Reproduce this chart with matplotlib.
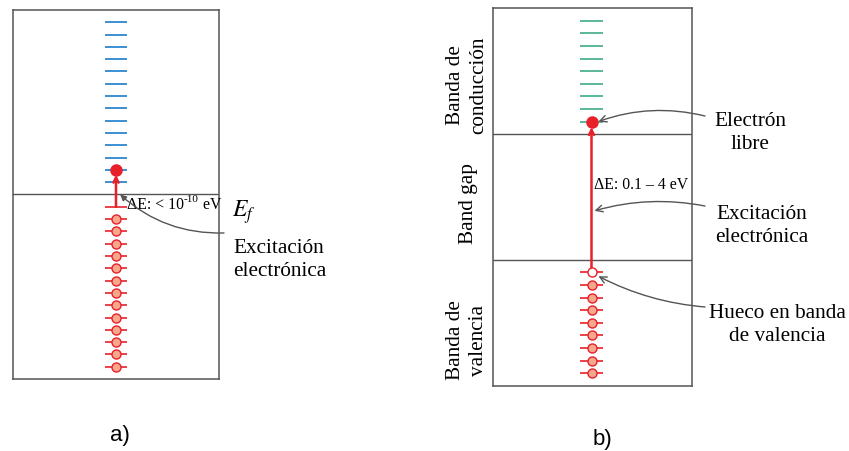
import matplotlib
matplotlib.use("Agg")
import matplotlib.pyplot as plt
from matplotlib.transforms import offset_copy

plt.rcParams['mathtext.fontset'] = 'stix'
SERIF = ['Liberation Serif', 'DejaVu Serif']

# ---- data (energy levels, arbitrary units; each panel spans 0..30) ----
a_cond_levels = [16, 17, 18, 19, 20, 21, 22, 23, 24, 25, 26, 27, 28, 29]
a_filled_levels = [1, 2, 3, 4, 5, 6, 7, 8, 9, 10, 11, 12, 13]
a_vacated_level = 14
a_fermi_level = 15
a_electron_level = 17

b_cond_levels = [21, 22, 23, 24, 25, 26, 27, 28, 29]
b_filled_levels = [1, 2, 3, 4, 5, 6, 7, 8]
b_hole_level = 9
b_valence_top = 10
b_cond_bottom = 20
b_electron_level = 21

W, H = 849, 451
GRAY = '#555555'
RED = '#e8202a'
FILL = '#f7a78c'
BLUE = '#3b8fd0'
GREEN = '#5ab898'


def px_box(l, t, r, b):
    return [l / W, 1 - b / H, (r - l) / W, (b - t) / H]


def fp(x, y):
    return (x / W, 1 - y / H)


fig = plt.figure(figsize=(W / 100, H / 100), dpi=100)
axA = fig.add_axes(px_box(13, 10, 219, 379))
axB = fig.add_axes(px_box(493, 8.3, 692, 385.7))

for ax in (axA, axB):
    ax.set_xlim(0, 1)
    ax.set_ylim(0, 30)
    ax.set_xticks([])
    ax.set_yticks([])
    for s in ax.spines.values():
        s.set_color(GRAY)
        s.set_linewidth(1.1)

# ---------------- panel a ----------------
hw = 0.054
axA.axhline(a_fermi_level, color=GRAY, lw=1.0)
axA.hlines(a_cond_levels, 0.5 - hw, 0.5 + hw, color=BLUE, lw=1.4)
axA.hlines(a_filled_levels + [a_vacated_level], 0.5 - hw, 0.5 + hw, color=RED, lw=1.2)
axA.plot([0.5] * len(a_filled_levels), a_filled_levels, 'o', ms=6.5,
         mfc=FILL, mec=RED, mew=1.0, zorder=4)
axA.annotate('', xy=(0.5, a_electron_level - 0.4), xytext=(0.5, a_vacated_level),
             arrowprops=dict(arrowstyle='->', color=RED, lw=1.8,
                             shrinkA=0, shrinkB=0, mutation_scale=9))
axA.plot([0.5], [a_electron_level], 'o', ms=8, color=RED, zorder=5)

# "ΔE: < 10^-10 eV" built from pieces so the exponent keeps a plain hyphen
renderer = fig.canvas.get_renderer()
t1 = axA.text(0.553, 14.15, 'ΔE: < 10', fontsize=11.3, family=SERIF,
              ha='left', va='center')
w1 = t1.get_window_extent(renderer).width * 72 / fig.dpi
t2 = axA.text(0.553, 14.15, '-10', fontsize=8, family=SERIF, ha='left', va='center',
              transform=offset_copy(axA.transData, fig=fig, x=w1, y=4, units='points'))
w2 = t2.get_window_extent(renderer).width * 72 / fig.dpi
axA.text(0.553, 14.15, ' eV', fontsize=11.3, family=SERIF, ha='left', va='center',
         transform=offset_copy(axA.transData, fig=fig, x=w1 + w2, y=0, units='points'))

fig.text(*fp(232, 212), r'$E_f$', fontsize=17, ha='left', va='center')
fig.text(*fp(233, 260), 'Excitación\nelectrónica', fontsize=15.3, family=SERIF,
         ha='left', va='center', linespacing=1.32)
axA.annotate('', xy=(0.52, a_fermi_level), xycoords=axA.transData,
             xytext=fp(224, 233), textcoords='figure fraction',
             arrowprops=dict(arrowstyle='-|>', color=GRAY, lw=1.0,
                             shrinkA=0, shrinkB=0, mutation_scale=9,
                             connectionstyle='arc3,rad=-0.2'))

# ---------------- panel b ----------------
hw = 0.058
axB.axhline(b_valence_top, color=GRAY, lw=1.0)
axB.axhline(b_cond_bottom, color=GRAY, lw=1.0)
axB.hlines(b_cond_levels, 0.495 - hw, 0.495 + hw, color=GREEN, lw=1.4)
axB.hlines(b_filled_levels + [b_hole_level], 0.495 - hw, 0.495 + hw, color=RED, lw=1.2)
axB.annotate('', xy=(0.495, b_electron_level - 0.45), xytext=(0.495, b_hole_level + 0.3),
             arrowprops=dict(arrowstyle='->', color=RED, lw=1.8,
                             shrinkA=0, shrinkB=0, mutation_scale=9))
axB.plot([0.495] * len(b_filled_levels), b_filled_levels, 'o', ms=6.5,
         mfc=FILL, mec=RED, mew=1.0, zorder=4)
axB.plot([0.495], [b_hole_level], 'o', ms=6.5, mfc='white', mec=RED, mew=1.0, zorder=4)
axB.plot([0.495], [b_electron_level], 'o', ms=8, color=RED, zorder=5)
axB.text(0.51, 15.96, 'ΔE: 0.1 – 4 eV', fontsize=11.3, family=SERIF,
         ha='left', va='center')

fig.text(*fp(467, 85), 'Banda de\nconducción', rotation=90, fontsize=15.3,
         family=SERIF, ha='center', va='center', multialignment='center',
         linespacing=1.25)
fig.text(*fp(468, 203), 'Band gap', rotation=90, fontsize=15.3,
         family=SERIF, ha='center', va='center')
fig.text(*fp(467, 340), 'Banda de\nvalencia', rotation=90, fontsize=15.3,
         family=SERIF, ha='center', va='center', multialignment='center',
         linespacing=1.25)

fig.text(*fp(750, 133), 'Electrón\nlibre', fontsize=15.3, family=SERIF,
         ha='center', va='center', multialignment='center', linespacing=1.32)
fig.text(*fp(762, 226), 'Excitación\nelectrónica', fontsize=15.3, family=SERIF,
         ha='center', va='center', multialignment='center', linespacing=1.32)
fig.text(*fp(777, 325), 'Hueco en banda\nde valencia', fontsize=15.3, family=SERIF,
         ha='center', va='center', multialignment='center', linespacing=1.32)

arrow_kw = dict(arrowstyle='->', color=GRAY, lw=1.0, shrinkA=0, shrinkB=0,
                mutation_scale=12)
axB.annotate('', xy=(0.53, b_electron_level), xycoords=axB.transData,
             xytext=fp(705, 116), textcoords='figure fraction',
             arrowprops=dict(connectionstyle='arc3,rad=0.15', **arrow_kw))
axB.annotate('', xy=(0.51, 13.9), xycoords=axB.transData,
             xytext=fp(705, 206), textcoords='figure fraction',
             arrowprops=dict(connectionstyle='arc3,rad=0.12', **arrow_kw))
axB.annotate('', xy=(0.53, 8.7), xycoords=axB.transData,
             xytext=fp(705, 307), textcoords='figure fraction',
             arrowprops=dict(connectionstyle='arc3,rad=-0.1', **arrow_kw))

# panel labels
fig.text(*fp(120, 436), 'a)', fontsize=16, family=['Liberation Sans', 'DejaVu Sans'],
         ha='center', va='center')
fig.text(*fp(602, 440), 'b)', fontsize=16, family=['Liberation Sans', 'DejaVu Sans'],
         ha='center', va='center')

fig.savefig('out.png', dpi=100)
